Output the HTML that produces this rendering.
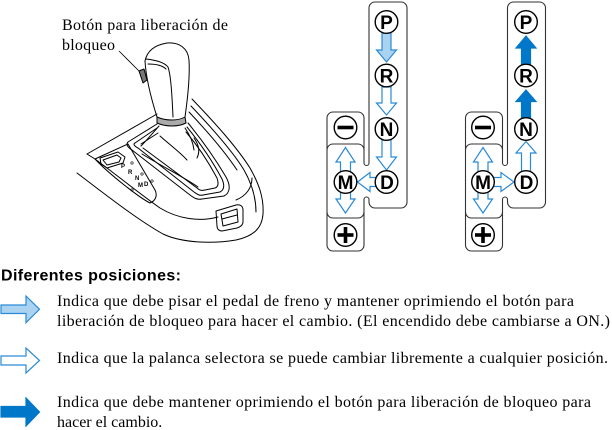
<!DOCTYPE html>
<html><head><meta charset="utf-8"><style>
html,body{margin:0;padding:0;background:#fff;}
svg{display:block;}
.ser{font-family:"Liberation Serif",serif;font-size:16px;fill:#000;}
.lt{font-family:"Liberation Sans",sans-serif;font-weight:bold;font-size:19px;fill:#000;text-anchor:middle;}
.tiny{font-family:"Liberation Sans",sans-serif;font-weight:bold;font-size:6px;fill:#000;}
</style></head><body>
<svg width="612" height="430" viewBox="0 0 612 430" xmlns="http://www.w3.org/2000/svg">
<rect width="612" height="430" fill="#fff"/>

<!-- label -->
<text class="ser" x="62" y="30" textLength="166" lengthAdjust="spacing">Botón para liberación de</text>
<text class="ser" x="62" y="50" textLength="53" lengthAdjust="spacing">bloqueo</text>
<line x1="119" y1="51" x2="141" y2="73" stroke="#000" stroke-width="0.8"/>

<!-- shifter illustration -->
<g fill="none" stroke="#000" stroke-width="1" stroke-linejoin="round" stroke-linecap="round">
  <path d="M87,154 L157,114"/>
  <path d="M87,154 C90,156 92,157 95,159"/>
  <path d="M77,173 C110,198 138,220 163,234 C182,243 212,244 236,240 C254,236 262,228 263,214 C264,198 259,184 250,168 C236,146 214,122 192,99"/>
  <path d="M191,106 C210,126 232,150 244,170 C252,184 256,198 256,212"/>
  <path d="M189,112 C206,130 225,152 237,170"/>
  <path d="M95,159 C118,176 140,194 160,208 C178,219 200,222 218,217"/>
  <path d="M236,200 C246,196 252,188 252,178"/>
  <path d="M128,142 L157,124 M188,123 C202,140 216,160 226,177 C231,186 230,193 224,196 L202,199 C197,200 194,198 190,195 L132,150 C127,147 126,144 128,142"/>
  <path d="M135,143 L157,128 M187,127 C200,143 213,162 222,179 C225,186 224,190 220,192 L203,195 C199,196 197,194 194,192 L138,148 C134,146 133,144 135,143"/>
  <path d="M141,144 L158,133 M186,132 C198,146 209,163 217,178 C219,184 218,187 215,188 L205,190 C201,191 199,190 197,188 L143,148"/>
  <path d="M159,126 C152,134 146,141 141,146"/>
  <path d="M160,136 C170,145 180,152 187,160"/>
  <path d="M142,154 C165,168 185,178 198,187"/>
  <path d="M194,138 C199,145 200,152 197,158"/>
  <path d="M185,128 C190,135 193,142 194,150"/>
  <!-- knob -->
  <path d="M145,61 C147,51 155,45 167,43 C179,42 188,48 189,60 C190,76 188,96 185,117"/>
  <path d="M145,61 C146,78 151,98 157,117"/>
  <path d="M146,59 C155,60 164,62 168,67 C171,76 172,95 173,117"/>
  <path d="M148,64 C157,64 163,66 166,69"/>
  <path d="M157,117 C166,121 178,121 185,117 L186,123 C178,127 166,127 157,123 Z" fill="#aaa"/>
  <path d="M139,71 L144,69 L147,80 L143,83 Z" fill="#777"/>
  <!-- indicator panel -->
  <path d="M95,159 L128,144 L155,190 C158,196 155,201 150,203 C140,198 110,175 95,159"/>
  <path d="M100,158 L118,152 L125,157 L123,163 L107,168 L101,164 Z"/>
  <path d="M103,160 L117,155 L121,158 L119,162 L107,165 Z"/>
  <!-- switch -->
  <path d="M216,211 L236,205 C240,204 243,206 243,210 L243,222 C243,225 240,227 237,228 L222,231 C219,231 217,229 217,226 Z"/>
  <path d="M221,214 L237,209 L238,222 L223,226 Z"/>
  <path d="M222,219 L237,215"/>
</g>
<text class="tiny" x="121" y="168">P</text>
<text class="tiny" x="128" y="174">R</text>
<text class="tiny" x="135" y="180">N</text>
<text class="tiny" x="138" y="187">M</text>
<text class="tiny" x="144" y="186">D</text>
<g fill="none" stroke="#000" stroke-width="0.6">
  <circle cx="132" cy="163" r="1.2"/><circle cx="142" cy="174" r="1.2"/><circle cx="152" cy="181" r="1.2"/><circle cx="132" cy="190" r="1.2"/>
</g>

<!-- LEFT PANEL frame -->
<g fill="#fff" stroke="#333" stroke-width="1.1">
  <path d="M375,2 H401 A6,6 0 0 1 407,8 V202 A6,6 0 0 1 401,208 H375 A6,6 0 0 1 369,202 V199.5 A2.5,2.5 0 0 0 364,199.5 V245 A6,6 0 0 1 358,251 H333 A6,6 0 0 1 327,245 V118 A6,6 0 0 1 333,112 H358 A6,6 0 0 1 364,118 V163 A2.5,2.5 0 0 0 369,163 V8 A6,6 0 0 1 375,2 Z"/>
  <path fill="none" d="M327,150 A6,6 0 0 1 333,144 H358 A6,6 0 0 1 364,150"/>
  <path fill="none" d="M327,212 A6,6 0 0 0 333,218 H358 A6,6 0 0 0 364,212"/>
</g>
<!-- RIGHT PANEL frame -->
<g transform="translate(138.5,0)" fill="#fff" stroke="#333" stroke-width="1.1">
  <path d="M375,2 H401 A6,6 0 0 1 407,8 V202 A6,6 0 0 1 401,208 H375 A6,6 0 0 1 369,202 V199.5 A2.5,2.5 0 0 0 364,199.5 V245 A6,6 0 0 1 358,251 H333 A6,6 0 0 1 327,245 V118 A6,6 0 0 1 333,112 H358 A6,6 0 0 1 364,118 V163 A2.5,2.5 0 0 0 369,163 V8 A6,6 0 0 1 375,2 Z"/>
  <path fill="none" d="M327,150 A6,6 0 0 1 333,144 H358 A6,6 0 0 1 364,150"/>
  <path fill="none" d="M327,212 A6,6 0 0 0 333,218 H358 A6,6 0 0 0 364,212"/>
</g>

<!-- arrows left panel -->
<g stroke="#2a8ad6" stroke-width="1.2" stroke-linejoin="miter">
  <polygon fill="#a9d3f0" points="382,33 391,33 391,50 396.5,50 386.5,62 376.5,50 382,50"/>
  <polygon fill="#fff" points="382,87 391,87 391,103 396.5,103 386.5,115 376.5,103 382,103"/>
  <polygon fill="#fff" points="382,140 391,140 391,157 396.5,157 386.5,170 376.5,157 382,157"/>
  <polygon fill="#fff" points="376,177.5 376,186.5 370,186.5 370,191.5 357.5,182 370,172.5 370,177.5"/>
  <polygon fill="#fff" points="340.5,175 350.5,175 350.5,162 355,162 345.5,147.5 336,162 340.5,162"/>
  <polygon fill="#fff" points="340.5,189 350.5,189 350.5,199 355,199 345.5,213 336,199 340.5,199"/>
</g>
<!-- arrows right panel -->
<g stroke-width="1.2" stroke-linejoin="miter">
  <polygon fill="#0077c8" stroke="#0077c8" points="521.5,67 530.5,67 530.5,48 536,48 526,36 516,48 521.5,48"/>
  <polygon fill="#0077c8" stroke="#0077c8" points="521.5,120 530.5,120 530.5,101.5 536,101.5 526,90 516,101.5 521.5,101.5"/>
  <polygon fill="#fff" stroke="#2a8ad6" points="521.5,174 530.5,174 530.5,153 536,153 526,141.5 516,153 521.5,153"/>
  <polygon fill="#fff" stroke="#2a8ad6" points="492,177.5 501,177.5 501,172.5 514,182 501,191.5 501,186.5 492,186.5"/>
  <polygon fill="#fff" stroke="#2a8ad6" points="478,175 488,175 488,162 492.5,162 483,147.5 473.5,162 478,162"/>
  <polygon fill="#fff" stroke="#2a8ad6" points="478,189 488,189 488,199 492.5,199 483,213 473.5,199 478,199"/>
</g>

<!-- circles -->
<g fill="#fff" stroke="#000" stroke-width="1.4">
  <circle cx="386.5" cy="22" r="11.3"/>
  <circle cx="386.5" cy="75.5" r="11.3"/>
  <circle cx="386.5" cy="129" r="11.3"/>
  <circle cx="386.5" cy="182" r="11.3"/>
  <circle cx="345.5" cy="182" r="11.3"/>
  <circle cx="345.5" cy="127.5" r="11.3"/>
  <circle cx="345.5" cy="235" r="11.3"/>
  <circle cx="526" cy="22" r="11.3"/>
  <circle cx="526" cy="75.5" r="11.3"/>
  <circle cx="526" cy="129" r="11.3"/>
  <circle cx="526" cy="182" r="11.3"/>
  <circle cx="483" cy="182" r="11.3"/>
  <circle cx="483" cy="127.5" r="11.3"/>
  <circle cx="483" cy="235" r="11.3"/>
</g>
<g>
  <text class="lt" x="386.5" y="29">P</text>
  <text class="lt" x="386.5" y="82.5">R</text>
  <text class="lt" x="386.5" y="136">N</text>
  <text class="lt" x="387" y="189">D</text>
  <text class="lt" x="345.5" y="189">M</text>
  <text class="lt" x="526" y="29">P</text>
  <text class="lt" x="526" y="82.5">R</text>
  <text class="lt" x="526" y="136">N</text>
  <text class="lt" x="526.5" y="189">D</text>
  <text class="lt" x="483" y="189">M</text>
</g>
<g fill="#000">
  <rect x="337.5" y="125.7" width="16" height="3.6"/>
  <rect x="337.5" y="233.2" width="16" height="3.6"/>
  <rect x="343.7" y="227" width="3.6" height="16"/>
  <rect x="475" y="125.7" width="16" height="3.6"/>
  <rect x="475" y="233.2" width="16" height="3.6"/>
  <rect x="481.2" y="227" width="3.6" height="16"/>
</g>

<!-- legend -->
<text x="1" y="280.5" font-family="Liberation Sans, sans-serif" font-weight="bold" font-size="16" textLength="180" lengthAdjust="spacing">Diferentes posiciones:</text>
<g stroke-width="1.2" stroke-linejoin="miter">
  <polygon fill="#a9d3f0" stroke="#2a8ad6" points="1,305 26,305 26,296 39.5,309.3 26,322.7 26,313.5 1,313.5"/>
  <polygon fill="#fff" stroke="#2a8ad6" points="1,356 26,356 26,348 39.5,360.5 26,373 26,365 1,365"/>
  <polygon fill="#0077c8" stroke="#0077c8" points="1,406.5 26,406.5 26,398 39.5,412 26,426 26,417 1,417"/>
</g>
<text class="ser" x="57" y="306" textLength="517" lengthAdjust="spacing">Indica que debe pisar el pedal de freno y mantener oprimiendo el botón para</text>
<text class="ser" x="57" y="326" textLength="553" lengthAdjust="spacing">liberación de bloqueo para hacer el cambio. (El encendido debe cambiarse a ON.)</text>
<text class="ser" x="57" y="363" textLength="551" lengthAdjust="spacing">Indica que la palanca selectora se puede cambiar libremente a cualquier posición.</text>
<text class="ser" x="57" y="407" textLength="534" lengthAdjust="spacing">Indica que debe mantener oprimiendo el botón para liberación de bloqueo para</text>
<text class="ser" x="57" y="427">hacer el cambio.</text>
</svg>
</body></html>
